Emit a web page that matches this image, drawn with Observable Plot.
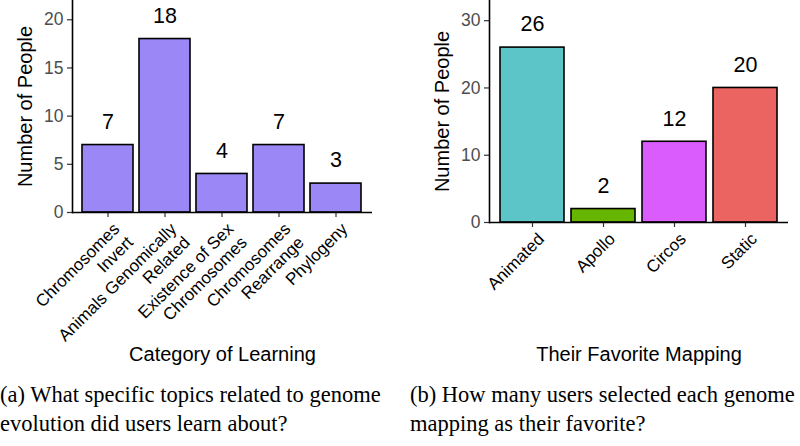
<!DOCTYPE html>
<html><head><meta charset="utf-8">
<script src="https://cdn.jsdelivr.net/npm/d3@7"></script>
<script src="https://cdn.jsdelivr.net/npm/@observablehq/plot@0.6"></script>
<style>
body{margin:0;background:#fff;}
#wrap{position:relative;width:800px;height:446px;overflow:hidden;background:#fff;}
.panel{position:absolute;top:0;}
.cap{position:absolute;font-family:"Liberation Serif","Times New Roman",serif;font-size:22.5px;line-height:29px;color:#000;white-space:nowrap;}
</style></head><body>
<div id="wrap">
<div class="panel" id="a" style="left:0"></div>
<div class="panel" id="b" style="left:400px"></div>
<div class="cap" style="left:0;top:380px;">(a) What specific topics related to genome<br>evolution did users learn about?</div>
<div class="cap" style="left:410px;top:380px;">(b) How many users selected each genome<br>mapping as their favorite?</div>
</div>
<script>
// Panel (a)
const learnCategories = ["Chromosomes Invert", "Animals Genomically Related", "Existence of Sex Chromosomes", "Chromosomes Rearrange", "Phylogeny"];
const learnLabels = ["Chromosomes\nInvert", "Animals Genomically\nRelated", "Existence of Sex\nChromosomes", "Chromosomes\nRearrange", "Phylogeny"];
const learnCounts = [7, 18, 4, 7, 3];
const learnTicks = [0, 5, 10, 15, 20];
const learnColor = "#9B87F5";

// Panel (b)
const mappingNames = ["Animated", "Apollo", "Circos", "Static"];
const mappingCounts = [26, 2, 12, 20];
const mappingColors = ["#5CC5C8", "#66B500", "#DA5CFC", "#EB6461"];
const mappingTicks = [0, 10, 20, 30];

const yTitle = "Number of People";

function panel({names, labels, counts, ticks, yMax, fillOpt, colorScale, xTitle, marginLeft, marginRight, marginBottom, height}) {
  const data = names.map((n, i) => ({name: n, label: labels[i], value: counts[i]}));
  const frameBottom = height - marginBottom;
  return Plot.plot({
    width: 400,
    height,
    marginLeft,
    marginRight,
    marginTop: 0,
    marginBottom,
    style: {fontFamily: "'Liberation Sans', Arial, Helvetica, sans-serif", background: "white", overflow: "visible"},
    x: {domain: names, paddingInner: 0.1, paddingOuter: 0.15, axis: null},
    y: {domain: [0, yMax], axis: null},
    color: colorScale,
    marks: [
      Plot.barY(data, {x: "name", y: "value", fill: fillOpt, stroke: "black", strokeWidth: 1.6}),
      Plot.axisX({tickSize: 5, tickFormat: () => "", stroke: "#333", strokeWidth: 1.2, label: null}),
      Plot.axisY({ticks, tickSize: 5, tickPadding: 4, fontSize: 17.5, fill: "#4d4d4d", stroke: "#333", strokeWidth: 1.2, label: null}),
      Plot.ruleY([0], {stroke: "black", strokeWidth: 1.6}),
      Plot.frame({anchor: "left", stroke: "black", strokeWidth: 1.6}),
      Plot.text(data, {x: "name", y: "value", text: d => String(d.value), dy: -23, fontSize: 21.5, fill: "black", lineAnchor: "middle"}),
      Plot.text(data, {x: "name", frameAnchor: "bottom", text: "label", rotate: -45, textAnchor: "end", lineAnchor: "top", lineHeight: 1.12, dx: 3, dy: 8, fontSize: 17, fill: "black"}),
      Plot.text([yTitle], {frameAnchor: "left", text: d => d, rotate: -90, dx: -47, fontSize: 20, fill: "black", textAnchor: "middle", lineAnchor: "middle"}),
      Plot.text([xTitle], {frameAnchor: "bottom", text: d => d, dy: 360 - frameBottom, fontSize: 20, fill: "black", textAnchor: "middle", lineAnchor: "bottom"})
    ]
  });
}

document.getElementById("a").append(panel({
  names: learnCategories, labels: learnLabels, counts: learnCounts, ticks: learnTicks, yMax: 22,
  fillOpt: learnColor, colorScale: undefined, xTitle: "Category of Learning",
  marginLeft: 72, marginRight: 28, marginBottom: 160, height: 372
}));

document.getElementById("b").append(panel({
  names: mappingNames, labels: mappingNames, counts: mappingCounts, ticks: mappingTicks, yMax: 33,
  fillOpt: "name", colorScale: {domain: mappingNames, range: mappingColors}, xTitle: "Their Favorite Mapping",
  marginLeft: 89, marginRight: 12, marginBottom: 150, height: 372
}));
</script>
</body></html>
